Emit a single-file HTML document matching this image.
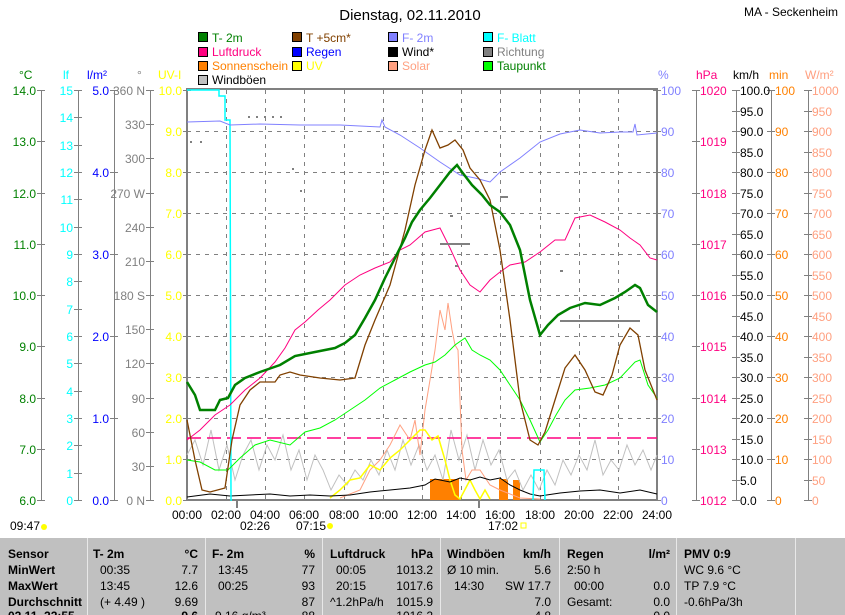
<!DOCTYPE html>
<html><head><meta charset="utf-8"><style>
body{margin:0;background:#fff;width:845px;height:615px;overflow:hidden;font-family:"Liberation Sans",sans-serif}
svg{position:absolute;left:0;top:0}
text{font-family:"Liberation Sans",sans-serif;font-size:12px}
.t{font-size:13px}
.b{font-weight:bold}
</style></head><body>
<svg width="845" height="615" viewBox="0 0 845 615">
<text x="410" y="20" text-anchor="middle" font-size="15" style="font-size:15px">Dienstag, 02.11.2010</text>
<text x="838" y="16" text-anchor="end">MA - Seckenheim</text>
<!-- legend -->
<g stroke="#000" stroke-width="1">
<rect x="198.5" y="32.5" width="9" height="9" fill="#008000"/><rect x="292.5" y="32.5" width="9" height="9" fill="#804000"/><rect x="388.5" y="32.5" width="9" height="9" fill="#8080ff"/><rect x="483.5" y="32.5" width="9" height="9" fill="#00ffff"/>
<rect x="198.5" y="47.5" width="9" height="9" fill="#ff0080"/><rect x="292.5" y="47.5" width="9" height="9" fill="#0000ff"/><rect x="388.5" y="47.5" width="9" height="9" fill="#000"/><rect x="483.5" y="47.5" width="9" height="9" fill="#808080"/>
<rect x="198.5" y="61.5" width="9" height="9" fill="#ff8000"/><rect x="292.5" y="61.5" width="9" height="9" fill="#ffff00"/><rect x="388.5" y="61.5" width="9" height="9" fill="#ffa080"/><rect x="483.5" y="61.5" width="9" height="9" fill="#00ff00"/>
<rect x="198.5" y="75.5" width="9" height="9" fill="#c0c0c0"/>
</g>
<g>
<text x="212" y="42" fill="#008000">T- 2m</text><text x="306" y="42" fill="#804000">T +5cm*</text><text x="402" y="42" fill="#8080ff">F- 2m</text><text x="497" y="42" fill="#00ffff">F- Blatt</text>
<text x="212" y="56" fill="#ff0080">Luftdruck</text><text x="306" y="56" fill="#0000ff">Regen</text><text x="402" y="56" fill="#000">Wind*</text><text x="497" y="56" fill="#808080">Richtung</text>
<text x="212" y="70" fill="#ff8000">Sonnenschein</text><text x="306" y="70" fill="#ffff00">UV</text><text x="402" y="70" fill="#ffa080">Solar</text><text x="497" y="70" fill="#008000">Taupunkt</text>
<text x="212" y="84" fill="#000">Windböen</text>
</g>
<!-- axis titles -->
<text x="19" y="79" fill="#008000">°C</text><text x="63" y="79" fill="#00ffff">lf</text><text x="87" y="79" fill="#0000ff">l/m²</text><text x="137" y="79" fill="#808080">°</text><text x="158" y="79" fill="#ffff00">UV-I</text>
<text x="658" y="79" fill="#8080ff">%</text><text x="696" y="79" fill="#ff0080">hPa</text><text x="733" y="79" fill="#000">km/h</text><text x="769" y="79" fill="#ff8000">min</text><text x="805" y="79" fill="#ffa080">W/m²</text>
<!-- grid -->
<g stroke="#808080" stroke-dasharray="4,5" stroke-width="1">
<line x1="187" y1="131.5" x2="657" y2="131.5"/><line x1="187" y1="172.5" x2="657" y2="172.5"/><line x1="187" y1="213.5" x2="657" y2="213.5"/><line x1="187" y1="254.5" x2="657" y2="254.5"/><line x1="187" y1="295.5" x2="657" y2="295.5"/><line x1="187" y1="336.5" x2="657" y2="336.5"/><line x1="187" y1="377.5" x2="657" y2="377.5"/><line x1="187" y1="418.5" x2="657" y2="418.5"/><line x1="187" y1="459.5" x2="657" y2="459.5"/>
<line x1="226.5" y1="90" x2="226.5" y2="500"/><line x1="265.5" y1="90" x2="265.5" y2="500"/><line x1="304.5" y1="90" x2="304.5" y2="500"/><line x1="344.5" y1="90" x2="344.5" y2="500"/><line x1="383.5" y1="90" x2="383.5" y2="500"/><line x1="422.5" y1="90" x2="422.5" y2="500"/><line x1="461.5" y1="90" x2="461.5" y2="500"/><line x1="500.5" y1="90" x2="500.5" y2="500"/><line x1="540.5" y1="90" x2="540.5" y2="500"/><line x1="579.5" y1="90" x2="579.5" y2="500"/><line x1="618.5" y1="90" x2="618.5" y2="500"/>
</g>
<!-- left axes -->
<g stroke="#808080" stroke-width="1" fill="none">
<line x1="41.5" y1="90" x2="41.5" y2="500"/><line x1="78.5" y1="90" x2="78.5" y2="500"/><line x1="114.5" y1="90" x2="114.5" y2="500"/><line x1="150.5" y1="90" x2="150.5" y2="500"/>
<line x1="696.5" y1="90" x2="696.5" y2="500"/><line x1="736.5" y1="90" x2="736.5" y2="500"/><line x1="771.5" y1="90" x2="771.5" y2="500"/><line x1="808.5" y1="90" x2="808.5" y2="500"/>
</g>
<g id="ticks" stroke="#808080" stroke-width="1"></g>
<g id="labels"></g>
<!-- plot frame -->
<rect x="187" y="89" width="470" height="411" fill="none" stroke="#808080" stroke-width="2"/>
<!-- series -->
<g fill="#ff8000"><rect x="430" y="479" width="29" height="21"/><rect x="499" y="479" width="9" height="21"/><rect x="513" y="480" width="7" height="20"/></g>
<polyline fill="none" stroke="#c0c0c0" stroke-width="1" points="187,455 195,440 203,465 211,430 219,470 227,445 235,480 243,455 251,440 259,470 267,445 275,460 283,435 291,470 299,450 307,480 315,455 323,470 331,490 339,475 347,485 355,470 363,480 371,460 379,475 387,450 395,470 403,440 411,465 419,445 427,470 435,455 443,480 451,430 459,460 467,435 475,470 483,440 491,465 499,450 507,480 515,470 523,490 531,475 539,490 547,470 555,485 563,460 571,475 579,455 587,470 595,440 603,475 611,460 619,470 627,445 635,465 643,450 651,470 657,455"/>
<line x1="187" y1="438" x2="657" y2="438" stroke="#ff0080" stroke-dasharray="14,6" stroke-width="1.5"/>
<polyline fill="none" stroke="#ffa080" stroke-width="1" points="340,498 360,490 370,470 380,460 390,445 400,425 410,440 415,420 420,455 425,410 430,380 435,350 440,310 445,330 448,303 452,330 455,345 458,350 460,400 462,450 466,480 472,470 480,470 490,485 500,490 520,498 540,499"/>
<polyline fill="none" stroke="#ffff00" stroke-width="1.5" points="330,498 340,490 350,480 360,478 370,465 380,470 390,458 400,450 410,440 420,430 425,430 432,440 438,436 445,460 450,480 455,495 460,499 470,480 475,490 480,499 485,490 490,499"/>
<polyline fill="none" stroke="#000" stroke-width="1" points="187,497 210,494 230,496 250,495 270,494 290,496 310,495 330,496 350,495 370,492 390,490 410,488 425,485 435,479 450,482 460,478 470,480 480,477 490,480 500,478 510,485 520,490 530,494 540,496 560,493 580,491 600,490 620,493 640,490 657,494"/>
<polyline fill="none" stroke="#00ffff" stroke-width="1.5" points="187,90 219,90 219,96 225,96 225,120 230,120 231,500 232,500 M" />
<polyline fill="none" stroke="#00ffff" stroke-width="1.5" points="533,500 534,470 544,470 545,500"/>
<polyline fill="none" stroke="#8080ff" stroke-width="1" points="187,122 220,121 230,125 260,124 300,125 340,125 380,127 382,120 385,127 400,135 420,148 440,162 460,175 475,178 490,182 500,172 520,158 540,142 560,134 580,130 600,133 620,132 633,132 635,124 637,135 657,133"/>
<polyline fill="none" stroke="#ff0080" stroke-width="1" points="187,440 200,430 215,415 230,405 245,390 260,378 275,362 285,348 295,330 305,322 318,310 330,300 345,285 360,275 375,268 390,262 400,250 410,245 425,232 440,228 450,248 460,270 470,285 480,292 490,280 500,272 510,265 525,262 540,252 555,240 565,240 575,218 590,215 605,222 620,230 630,238 640,245 650,258 657,260"/>
<polyline fill="none" stroke="#00ff00" stroke-width="1" points="187,460 200,462 215,470 228,470 240,458 255,445 270,440 290,445 305,432 320,428 335,420 350,410 365,400 380,388 395,380 410,372 425,365 435,362 445,355 455,345 465,338 472,350 480,355 490,360 500,370 510,385 520,400 530,420 540,442 548,430 556,415 565,400 575,390 590,388 605,385 620,378 635,362 640,360 648,385 657,398"/>
<polyline fill="none" stroke="#804000" stroke-width="1.3" points="187,420 195,460 202,490 210,492 225,488 232,440 240,405 250,390 260,382 275,382 280,375 290,372 300,375 320,378 340,380 355,378 365,345 375,320 390,285 405,230 415,185 425,150 432,130 440,148 448,145 455,140 463,150 470,168 480,180 490,200 500,250 510,320 520,400 530,440 538,445 545,432 555,400 565,368 575,355 585,370 595,392 603,395 612,375 620,345 630,328 638,335 645,370 657,400"/>
<polyline fill="none" stroke="#008000" stroke-width="2.5" points="187,382 195,395 200,410 215,410 220,400 228,398 235,385 245,378 260,372 280,365 295,356 315,352 335,348 345,343 355,335 365,318 375,300 385,278 395,258 405,238 412,222 420,210 430,198 440,185 450,172 457,165 462,172 472,185 482,195 490,205 500,212 510,225 520,250 530,300 540,335 548,325 558,315 570,308 585,303 600,305 615,298 625,292 635,285 640,288 648,305 657,312"/>
<!-- richtung dots -->
<g fill="#808080"><rect x="248" y="116" width="2" height="2"/><rect x="256" y="116" width="2" height="2"/><rect x="264" y="116" width="2" height="2"/><rect x="272" y="116" width="2" height="2"/><rect x="280" y="116" width="2" height="2"/><rect x="190" y="141" width="2" height="2"/><rect x="200" y="141" width="2" height="2"/><rect x="292" y="168" width="2" height="2"/><rect x="300" y="190" width="2" height="2"/><rect x="440" y="243" width="30" height="2"/><rect x="560" y="320" width="80" height="2"/><rect x="500" y="196" width="8" height="2"/><rect x="455" y="265" width="3" height="2"/><rect x="560" y="270" width="3" height="2"/><rect x="450" y="215" width="3" height="2"/></g>
<!-- time labels -->
<g text-anchor="middle">
<text x="187" y="519">00:00</text><text x="226" y="519">02:00</text><text x="265" y="519">04:00</text><text x="304" y="519">06:00</text><text x="344" y="519">08:00</text><text x="383" y="519">10:00</text><text x="422" y="519">12:00</text><text x="461" y="519">14:00</text><text x="500" y="519">16:00</text><text x="540" y="519">18:00</text><text x="579" y="519">20:00</text><text x="618" y="519">22:00</text><text x="657" y="519">24:00</text>
</g>
<g fill="#808080"><rect x="236" y="500" width="2" height="8"/><rect x="478" y="500" width="2" height="8"/></g>
<text x="10" y="530">09:47</text><circle cx="44" cy="527" r="3" fill="#ffff00"/>
<text x="240" y="530">02:26</text><text x="296" y="530">07:15</text><circle cx="330" cy="526" r="3" fill="#ffff00"/>
<text x="488" y="530">17:02</text><rect x="521" y="523" width="5" height="5" fill="none" stroke="#ffff00"/>
<!-- table -->
<rect x="0" y="538" width="845" height="77" fill="#c0c0c0"/>
<g stroke="#e8e8e8"><line x1="87.5" y1="538" x2="87.5" y2="615"/><line x1="205.5" y1="538" x2="205.5" y2="615"/><line x1="322.5" y1="538" x2="322.5" y2="615"/><line x1="440.5" y1="538" x2="440.5" y2="615"/><line x1="559.5" y1="538" x2="559.5" y2="615"/><line x1="676.5" y1="538" x2="676.5" y2="615"/><line x1="795.5" y1="538" x2="795.5" y2="615"/></g>
<g class="b">
<text x="8" y="558">Sensor</text><text x="93" y="558">T- 2m</text><text x="198" y="558" text-anchor="end">°C</text><text x="212" y="558">F- 2m</text><text x="315" y="558" text-anchor="end">%</text><text x="330" y="558">Luftdruck</text><text x="433" y="558" text-anchor="end">hPa</text><text x="447" y="558">Windböen</text><text x="551" y="558" text-anchor="end">km/h</text><text x="567" y="558">Regen</text><text x="670" y="558" text-anchor="end">l/m²</text><text x="684" y="558">PMV 0:9</text>
<text x="8" y="574">MinWert</text><text x="8" y="590">MaxWert</text><text x="8" y="606">Durchschnitt</text><text x="8" y="620">02.11. 22:55</text>
</g>
<g>
<text x="100" y="574">00:35</text><text x="198" y="574" text-anchor="end">7.7</text><text x="218" y="574">13:45</text><text x="315" y="574" text-anchor="end">77</text><text x="336" y="574">00:05</text><text x="433" y="574" text-anchor="end">1013.2</text><text x="447" y="574">Ø 10 min.</text><text x="551" y="574" text-anchor="end">5.6</text><text x="567" y="574">2:50 h</text><text x="684" y="574">WC 9.6 °C</text>
<text x="100" y="590">13:45</text><text x="198" y="590" text-anchor="end">12.6</text><text x="218" y="590">00:25</text><text x="315" y="590" text-anchor="end">93</text><text x="336" y="590">20:15</text><text x="433" y="590" text-anchor="end">1017.6</text><text x="454" y="590">14:30</text><text x="551" y="590" text-anchor="end">SW 17.7</text><text x="574" y="590">00:00</text><text x="670" y="590" text-anchor="end">0.0</text><text x="684" y="590">TP 7.9 °C</text>
<text x="100" y="606">(+ 4.49 )</text><text x="198" y="606" text-anchor="end">9.69</text><text x="315" y="606" text-anchor="end">87</text><text x="330" y="606">^1.2hPa/h</text><text x="433" y="606" text-anchor="end">1015.9</text><text x="551" y="606" text-anchor="end">7.0</text><text x="567" y="606">Gesamt:</text><text x="670" y="606" text-anchor="end">0.0</text><text x="684" y="606">-0.6hPa/3h</text>
<text x="198" y="620" text-anchor="end" class="b">9.6</text><text x="215" y="620">9.16 g/m³</text><text x="315" y="620" text-anchor="end">88</text><text x="433" y="620" text-anchor="end">1016.2</text><text x="551" y="620" text-anchor="end">4.8</text><text x="670" y="620" text-anchor="end">0.0</text>
</g>
</svg>
<script>
(function(){
var NS="http://www.w3.org/2000/svg",T=document.getElementById("ticks"),L=document.getElementById("labels");
function y(v,min,max){return 500-(v-min)/(max-min)*410;}
function tick(x1,x2,yy){var l=document.createElementNS(NS,"line");l.setAttribute("x1",x1);l.setAttribute("x2",x2);l.setAttribute("y1",yy+.5);l.setAttribute("y2",yy+.5);T.appendChild(l);}
function lab(x,yy,s,c,anc){var t=document.createElementNS(NS,"text");t.setAttribute("x",x);t.setAttribute("y",yy+5);t.setAttribute("fill",c);t.setAttribute("text-anchor",anc);t.textContent=s;L.appendChild(t);}
function axis(ax,min,max,step,c,fmt,right,lblStep){
 for(var v=min;v<=max+1e-9;v+=step){var yy=Math.round(y(v,min,max));
  tick(ax-4,ax+4,yy);
  if(lblStep===undefined||Math.abs((v-min)/lblStep-Math.round((v-min)/lblStep))<1e-6){
   if(right)lab(ax+4,yy,fmt(v),c,"start");else lab(ax-5,yy,fmt(v),c,"end");}}
}
axis(41,6,14,1,"#008000",function(v){return v.toFixed(1)},false);
axis(78,0,15,1,"#00ffff",function(v){return v.toFixed(0)},false);
axis(114,0,5,1,"#0000ff",function(v){return v.toFixed(1)},false);
axis(150,0,360,30,"#808080",function(v){return v==0?"0 N":v==90?"90":v==180?"180 S":v==270?"270 W":v==360?"360 N":v},false);
axis(187,0,10,1,"#ffff00",function(v){return v.toFixed(1)},false);
axis(657,0,100,10,"#8080ff",function(v){return v.toFixed(0)},true);
axis(696,1012,1020,1,"#ff0080",function(v){return v.toFixed(0)},true);
axis(736,0,100,5,"#000",function(v){return v.toFixed(1)},true);
axis(771,0,100,10,"#ff8000",function(v){return v.toFixed(0)},true);
axis(808,0,1000,50,"#ffa080",function(v){return v.toFixed(0)},true);
})();
</script>
</body></html>
